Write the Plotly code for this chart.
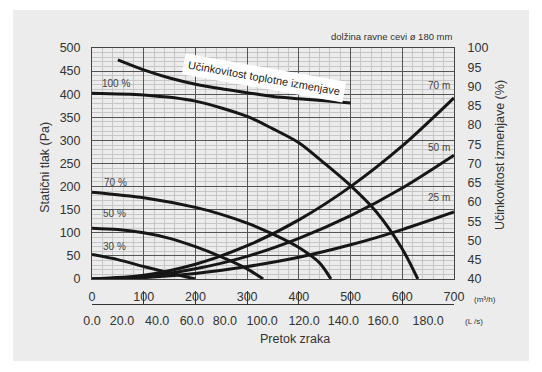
import plotly.graph_objects as go

# ---- data ----
q_fan100 = [0, 100, 200, 300, 350, 400, 450, 500, 550, 600, 630]
p_fan100 = [402, 398, 385, 352, 325, 295, 250, 202, 145, 65, 0]

q_fan70 = [0, 100, 200, 250, 300, 350, 400, 440, 462]
p_fan70 = [188, 176, 155, 140, 121, 97, 68, 35, 0]

q_fan50 = [0, 50, 100, 150, 200, 250, 300, 331]
p_fan50 = [110, 107, 100, 88, 70, 48, 22, 0]

q_fan30 = [0, 50, 100, 150, 200]
p_fan30 = [53, 42, 27, 13, 0]

q_duct = [0, 100, 200, 300, 400, 500, 600, 700]
p_duct70 = [0, 8, 32, 72, 128, 200, 288, 392]
p_duct50 = [0, 5, 22, 49, 88, 137, 197, 268]
p_duct25 = [0, 3, 12, 27, 47, 74, 107, 145]

q_eff = [50, 100, 150, 200, 250, 300, 350, 400, 450, 500]
eff = [96.9, 94.3, 92.2, 90.6, 89.4, 88.4, 87.4, 86.8, 86.3, 85.7]

x_ticks = [0, 100, 200, 300, 400, 500, 600, 700]
lps_labels = ["0.0", "20.0", "40.0", "60.0", "80.0", "100.0", "120.0", "140.0", "160.0", "180.0"]
lps_label_pos = [0, 58, 126, 193, 257, 329, 410, 486, 563, 650]

FONT = "Liberation Sans, Arial, sans-serif"
LINE = "#161616"
TXT = "#333333"

fig = go.Figure()

for q, p in [(q_fan100, p_fan100), (q_fan70, p_fan70), (q_fan50, p_fan50), (q_fan30, p_fan30),
             (q_duct, p_duct70), (q_duct, p_duct50), (q_duct, p_duct25)]:
    fig.add_trace(go.Scatter(x=q, y=p, mode="lines", line=dict(color=LINE, width=3, shape="spline", smoothing=0.8),
                             hoverinfo="skip", showlegend=False))

fig.add_trace(go.Scatter(x=q_eff, y=eff, mode="lines", yaxis="y2",
                         line=dict(color=LINE, width=3, shape="spline", smoothing=0.8),
                         hoverinfo="skip", showlegend=False))

# invisible traces that attach the extra bottom axes
fig.add_trace(go.Scatter(x=[0], y=[0], xaxis="x2", mode="markers", marker=dict(opacity=0),
                         hoverinfo="skip", showlegend=False))
fig.add_trace(go.Scatter(x=[0], y=[0], xaxis="x3", mode="markers", marker=dict(opacity=0),
                         hoverinfo="skip", showlegend=False))

fig.update_layout(
    width=542, height=372,
    margin=dict(l=84, r=96, t=40, b=20),
    paper_bgcolor="white",
    plot_bgcolor="#ebebeb",
    font=dict(family=FONT, color=TXT, size=12),
    showlegend=False,
    xaxis=dict(range=[0, 700], tickvals=x_ticks, showgrid=True, gridcolor="#555555", gridwidth=1.2,
               minor=dict(dtick=20, showgrid=True, gridcolor="#c6c6c6", gridwidth=1),
               showline=True, linecolor="#444444", linewidth=1, mirror=True,
               ticks="outside", ticklen=6, tickcolor="rgba(0,0,0,0)",
               tickfont=dict(size=12.5, color=TXT), zeroline=False),
    yaxis=dict(range=[0, 500], dtick=50, domain=[0.2596, 1], showgrid=True, gridcolor="#555555", gridwidth=1.2,
               minor=dict(dtick=10, showgrid=True, gridcolor="#c6c6c6", gridwidth=1),
               showline=True, linecolor="#444444", linewidth=1, mirror=True,
               ticks="outside", ticklen=8, tickcolor="rgba(0,0,0,0)",
               tickfont=dict(size=12.5, color=TXT), zeroline=False),
    yaxis2=dict(range=[40, 100], dtick=5, overlaying="y", side="right", showgrid=False,
                ticks="outside", ticklen=10, tickcolor="rgba(0,0,0,0)",
                tickfont=dict(size=12.5, color=TXT), zeroline=False),
    xaxis2=dict(range=[0, 700], overlaying="x", anchor="free", position=0.154, side="bottom",
                tickvals=lps_label_pos, ticktext=lps_labels, showgrid=False, showline=False,
                ticks="", tickfont=dict(size=12.5, color=TXT), zeroline=False),
    xaxis3=dict(range=[0, 700], overlaying="x", anchor="free", position=0.1795, side="bottom",
                tickvals=x_ticks[:-1], showticklabels=False, showgrid=False, showline=True,
                linecolor="#333333", linewidth=1.2, ticks="inside", ticklen=13, tickwidth=1.2,
                tickcolor="#333333", zeroline=False),
)

# card background
fig.add_shape(type="rect", xref="paper", yref="paper", x0=-0.218, x1=1.207, y0=-0.003, y1=1.122,
              fillcolor="#ececec", line=dict(width=0), layer="below")

ann = []
def label(x, y, text, size=10, xanchor="center", **kw):
    ann.append(dict(x=x, y=y, text=text, showarrow=False, xanchor=xanchor, yanchor="middle",
                    font=dict(size=size, color="#444444", family=FONT), **kw))

label(46, 424, "100 %")
label(46, 208, "70 %")
label(44, 141, "50 %")
label(43, 71, "30 %")
label(697, 418, "70 m", xanchor="right")
label(697, 284, "50 m", xanchor="right")
label(697, 177, "25 m", xanchor="right")

ann.append(dict(x=333, y=435, text="Učinkovitost toplotne izmenjave", showarrow=False, textangle=10,
                xanchor="center", yanchor="middle",
                bgcolor="white", borderpad=4, font=dict(size=11, color="#222222", family=FONT)))

def ptext(x, y, text, size=12.5, angle=0, xanchor="center"):
    ann.append(dict(x=x, y=y, xref="paper", yref="paper", text=text, textangle=angle,
                    xanchor=xanchor, yanchor="middle", showarrow=False,
                    font=dict(size=size, color=TXT, family=FONT)))

ptext(1.003, 1.038, "dolžina ravne cevi ø 180 mm", size=9.5, xanchor="right")
ptext(-0.130, 0.619, "Statični tlak (Pa)", angle=-90)
ptext(1.127, 0.657, "Učinkovitost izmenjave (%)", angle=-90)
ptext(1.086, 0.1955, "(m³/h)", size=8)
ptext(1.055, 0.125, "(L /s)", size=8)
ptext(0.561, 0.067, "Pretok zraka")

fig.update_layout(annotations=ann)
fig.write_html("out.html")
